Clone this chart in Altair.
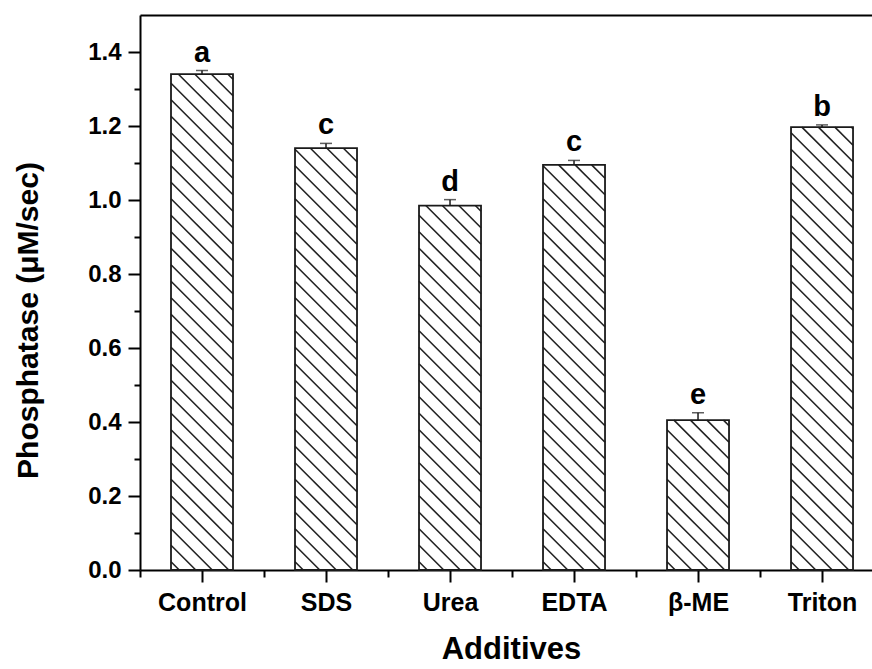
import altair as alt
import pandas as pd

# Enzyme activity under each additive (mean, SD) and significance group
additives = ["Control", "SDS", "Urea", "EDTA", "β-ME", "Triton"]
activity = [1.34, 1.14, 0.985, 1.095, 0.405, 1.197]
sd = [0.010, 0.013, 0.016, 0.012, 0.020, 0.006]
groups = ["a", "c", "d", "c", "e", "b"]

y_ticks = [0.0, 0.2, 0.4, 0.6, 0.8, 1.0, 1.2, 1.4]
y_minor = [0.1, 0.3, 0.5, 0.7, 0.9, 1.1, 1.3]

FONT = "Liberation Sans"
W, H = 732, 555
X_DOM = [-0.5, 5.403]
Y_DOM = [0.0, 1.5]
BAR_HALF = 0.25          # half bar width, in category units
HATCH_GAP = 16.5         # vertical gap between hatch lines, px

px_x = W / (X_DOM[1] - X_DOM[0])
px_y = H / (Y_DOM[1] - Y_DOM[0])

df = pd.DataFrame({
    "idx": range(len(additives)),
    "name": additives,
    "value": activity,
    "sd": sd,
    "group": groups,
})
df["left"] = df["idx"] - BAR_HALF
df["right"] = df["idx"] + BAR_HALF
df["upper"] = df["value"] + df["sd"]

# diagonal "\" hatch segments clipped to each bar
rows = []
for _, r in df.iterrows():
    bw = (r["right"] - r["left"]) * px_x
    bh = r["value"] * px_y
    c = HATCH_GAP * 0.5
    while c < bw + bh:
        x0 = max(0.0, c - bh)
        x1 = min(bw, c)
        rows.append({
            "x": r["left"] + x0 / px_x, "y": (c - x0) / px_y,
            "x2": r["left"] + x1 / px_x, "y2": (c - x1) / px_y,
        })
        c += HATCH_GAP
hatch = pd.DataFrame(rows)

names_js = "[" + ",".join(f"'{n}'" for n in additives) + "]"

xs = alt.Scale(domain=X_DOM, nice=False, zero=False)
ys = alt.Scale(domain=Y_DOM, nice=False)

axis_common = dict(
    domainColor="black", domainWidth=2, tickColor="black", tickWidth=2,
    grid=False, labelFont=FONT, labelFontWeight="bold", labelColor="black",
    titleFont=FONT, titleFontWeight="bold", titleColor="black",
)

x_main = alt.Axis(
    orient="bottom", values=list(range(len(additives))),
    labelExpr=f"{names_js}[datum.value]", labelFontSize=25,
    tickSize=12, labelPadding=20, labelBaseline="middle",
    title="Additives", titleFontSize=31, titleX=371, titleY=88,
    titleBaseline="alphabetic", titleAlign="center", **axis_common,
)
x_minor = alt.Axis(
    orient="bottom", values=[i + 0.5 for i in range(-1, len(additives) - 1)],
    tickSize=7, labels=False, domain=False, title=None, grid=False,
    tickColor="black", tickWidth=2,
)
x_top = alt.Axis(
    orient="top", ticks=False, labels=False, title=None, grid=False,
    domainColor="black", domainWidth=2,
)
y_main = alt.Axis(
    orient="left", values=y_ticks, format=".1f", labelFontSize=24,
    tickSize=12, labelPadding=7,
    title="Phosphatase (μM/sec)", titleFontSize=30, titleX=-112, titleY=305,
    titleBaseline="middle", titleAlign="center", titleAngle=-90,
    **axis_common,
)
y_minor_ax = alt.Axis(
    orient="left", values=y_minor, tickSize=6, labels=False, domain=False,
    title=None, grid=False, tickColor="black", tickWidth=2,
)

base = alt.Chart(df)

bars_fill = base.mark_bar(fill="white", stroke=None).encode(
    x=alt.X("left:Q", scale=xs, axis=x_main),
    x2="right:Q",
    y=alt.Y("value:Q", scale=ys, axis=y_main),
    y2=alt.datum(0),
)

hatch_lines = alt.Chart(hatch).mark_rule(color="#222222", strokeWidth=1.6).encode(
    x=alt.X("x:Q", scale=xs, axis=None),
    y=alt.Y("y:Q", scale=ys, axis=None),
    x2="x2:Q",
    y2="y2:Q",
)

bars_outline = base.mark_bar(fill=None, stroke="#1a1a1a", strokeWidth=1.8).encode(
    x=alt.X("left:Q", scale=xs, axis=x_minor),
    x2="right:Q",
    y=alt.Y("value:Q", scale=ys, axis=y_minor_ax),
    y2=alt.datum(0),
)

whisker = base.mark_rule(color="#1a1a1a", strokeWidth=1.5).encode(
    x=alt.X("idx:Q", scale=xs, axis=x_top),
    y=alt.Y("value:Q", scale=ys, axis=None),
    y2="upper:Q",
)

caps = base.mark_tick(color="#1a1a1a", orient="horizontal", size=12, thickness=1.5).encode(
    x=alt.X("idx:Q", scale=xs, axis=None),
    y=alt.Y("upper:Q", scale=ys, axis=None),
)

letters = base.mark_text(
    font=FONT, fontWeight="bold", fontSize=29, color="black",
    baseline="alphabetic", dy=-9,
).encode(
    x=alt.X("idx:Q", scale=xs, axis=None),
    y=alt.Y("upper:Q", scale=ys, axis=None),
    text="group:N",
)

chart = (
    alt.layer(bars_fill, hatch_lines, bars_outline, whisker, caps, letters)
    .resolve_axis(x="independent", y="independent")
    .properties(
        width=W, height=H,
        autosize=alt.AutoSizeParams(type="none"),
        padding={"left": 140, "top": 15, "right": 0, "bottom": 99},
        background="white",
    )
    .configure_view(stroke=None)
)

chart.save("out.html", embed_options={"renderer": "svg", "actions": False})
